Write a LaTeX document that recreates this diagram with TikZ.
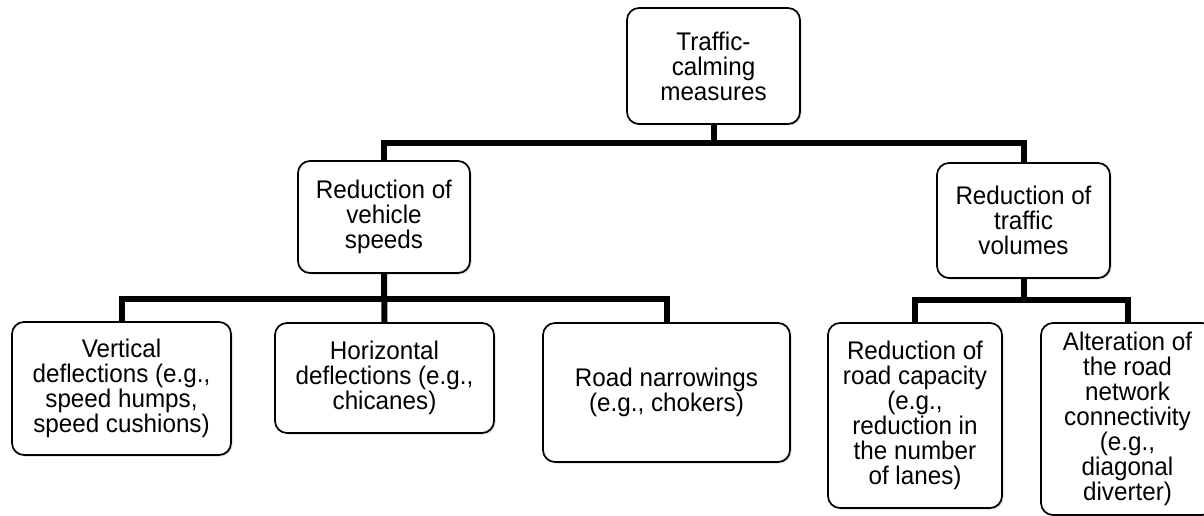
\documentclass[tikz,border=0pt]{standalone}
\usepackage{fontspec}
\setmainfont{Liberation Sans}[FakeStretch=0.95]
\usetikzlibrary{shadows}
\begin{document}
\begin{tikzpicture}[x=1pt,y=-1pt,
  box/.style={draw=black, line width=1.7pt, rounded corners=12pt, fill=white,
    align=center, inner sep=0pt, font=\fontsize{25.5}{25}\selectfont,
    drop shadow={shadow xshift=1.5pt, shadow yshift=-1.5pt, opacity=0.3}},
  conn/.style={line width=6pt, line join=miter, draw=black}]
\useasboundingbox (0,0) rectangle (1204,516);
\clip (0,0) rectangle (1204,516);
% nodes
\node[box, minimum width=173pt, minimum height=116pt] (top) at (713.5,66) {Traffic-\\calming\\measures};
\node[box, minimum width=172pt, minimum height=112pt] (speeds) at (384,217) {Reduction of\\vehicle\\speeds};
\node[box, minimum width=173pt, minimum height=115pt] (volumes) at (1023.5,220.5) {Reduction of\\traffic\\volumes};
\node[box, minimum width=219pt, minimum height=133pt] (vert) at (121.5,388.5) {Vertical\\deflections (e.g.,\\speed humps,\\speed cushions)};
\node[box, minimum width=219pt, minimum height=110pt] (horiz) at (384.5,378) {Horizontal\\deflections (e.g.,\\chicanes)};
\node[box, minimum width=247pt, minimum height=139pt] (road) at (666.5,392.5) {Road narrowings\\(e.g., chokers)};
\node[box, minimum width=174pt, minimum height=185pt] (capacity) at (915,415.5) {Reduction of\\road capacity\\(e.g.,\\reduction in\\the number\\of lanes)};
\node[box, minimum width=173pt, minimum height=192pt] (alter) at (1127.5,419) {Alteration of\\the road\\network\\connectivity\\(e.g.,\\diagonal\\diverter)};
% bus points
\coordinate (b1) at (713.5,143);
\coordinate (b2) at (384,299);
\coordinate (b3) at (1023.5,300);
% connectors
\draw[conn] (top.south) -- (b1);
\draw[conn] (speeds.north) |- (b1) -| (volumes.north);
\draw[conn] (speeds.south) -- (horiz.north);
\draw[conn] (vert.north) |- (b2) -| (road.north);
\draw[conn] (volumes.south) -- (b3);
\draw[conn] (capacity.north) |- (b3) -| (alter.north);
\end{tikzpicture}
\end{document}
